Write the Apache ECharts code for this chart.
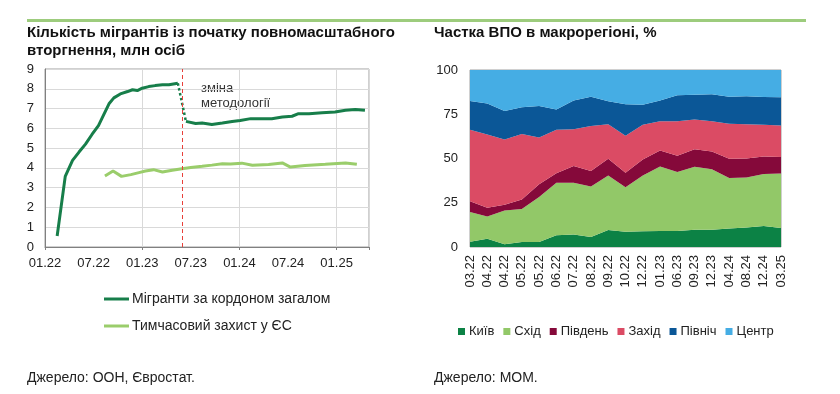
<!DOCTYPE html>
<html>
<head>
<meta charset="utf-8">
<script src="https://cdn.jsdelivr.net/npm/echarts@6/dist/echarts.min.js"></script>
<style>
html,body{margin:0;padding:0;background:#fff;}
#c{width:840px;height:394px;}
</style>
</head>
<body>
<div id="c"></div>
<script>
// ---- Left chart data (x = months since 01.22) ----
const leftTickLabels = ['01.22','07.22','01.23','07.23','01.24','07.24','01.25'];
const migrPreMonths  = [1.5, 2.5, 3.4, 4.2, 5.0, 5.8, 6.6, 7.3, 7.9, 8.5, 9.3, 10.2, 10.8, 11.4, 12.0, 12.8, 13.6, 14.5, 15.3, 16.4];
const migrPreValues  = [0.56, 3.57, 4.38, 4.8, 5.2, 5.69, 6.14, 6.73, 7.24, 7.54, 7.74, 7.86, 7.95, 7.91, 8.03, 8.11, 8.16, 8.2, 8.2, 8.28];
const migrPostMonths = [17.4, 18.6, 19.4, 20.6, 21.9, 23.1, 24.1, 25.4, 26.8, 28.0, 29.3, 30.5, 31.3, 32.6, 34.2, 35.8, 37.1, 38.3, 39.5];
const migrPostValues = [6.35, 6.24, 6.27, 6.19, 6.27, 6.35, 6.4, 6.49, 6.49, 6.49, 6.57, 6.61, 6.74, 6.74, 6.79, 6.83, 6.91, 6.95, 6.91];
const tempMonths = [7.4, 8.4, 9.45, 10.6, 11.6, 12.4, 13.4, 14.5, 15.7, 16.9, 18.0, 19.4, 20.6, 21.9, 22.9, 24.3, 25.6, 27.6, 29.3, 30.3, 32.1, 34.6, 37.1, 38.5];
const tempValues = [3.59, 3.84, 3.57, 3.66, 3.76, 3.84, 3.91, 3.79, 3.88, 3.96, 4.02, 4.08, 4.14, 4.21, 4.2, 4.24, 4.13, 4.17, 4.25, 4.04, 4.12, 4.18, 4.25, 4.18];
const methodologyChangeMonth = 17;

// ---- Right chart data (shares, %) ----
const rightCategories = ['03.22','04.22','04.22','05.22','05.22','06.22','07.22','08.22','09.22','10.22','12.22','01.23','06.23','09.23','12.23','04.24','08.24','12.24','03.25'];
const kyiv   = [3, 4.6, 1.6, 2.8, 2.8, 6.6, 7, 5.7, 9.6, 8.6, 8.9, 9.1, 9.1, 9.8, 9.8, 10.4, 11, 11.8, 10.7];
const east   = [16.8, 12.7, 19.0, 18.7, 25.5, 29.7, 29.3, 28.5, 30.8, 25.1, 31.5, 36.4, 33.3, 35.5, 34.1, 28.6, 28.2, 29.5, 30.8];
const south  = [6.1, 4.9, 3.3, 5.4, 7.2, 5.4, 9.5, 8.7, 9.4, 8.3, 9.0, 9.0, 9.2, 9.9, 10.1, 10.8, 10.8, 9.8, 9.4];
const west   = [40.3, 41.3, 36.8, 36.9, 26.4, 24.5, 20.7, 25.4, 19.5, 20.8, 19.7, 16.5, 19.5, 16.8, 17.1, 19.8, 19.3, 17.9, 17.8];
const north  = [16.3, 17.6, 16.1, 15.2, 17.7, 11.5, 16.3, 16.6, 13.0, 17.8, 11.3, 11.8, 14.7, 14.0, 15.2, 15.3, 15.8, 15.7, 15.9];
const center = [17.5, 18.9, 23.2, 21.0, 20.4, 22.3, 17.2, 15.1, 17.7, 19.4, 19.6, 17.2, 14.2, 14.0, 13.7, 15.1, 14.9, 15.3, 15.4];

const FONT = '"Liberation Sans", Arial, sans-serif';
const DARK = '#177e4a', LIGHT = '#9acd6b';
const zip = (xs, ys) => xs.map((x, i) => [x, ys[i]]);

const chart = echarts.init(document.getElementById('c'), null, {renderer: 'canvas'});
const txt = {fontFamily: FONT, fontSize: 13, color: '#222'};

const areaSeries = (name, data, color) => ({
  name, type: 'line', xAxisIndex: 2, yAxisIndex: 1, stack: 'total',
  data, symbol: 'none', lineStyle: {width: 0}, areaStyle: {color, opacity: 1},
  itemStyle: {color}, silent: true
});

chart.setOption({
  animation: false,
  textStyle: {fontFamily: FONT},
  graphic: [
    {type: 'rect', shape: {x: 27, y: 19, width: 779, height: 3}, style: {fill: '#9dcc7d'}},
    {type: 'text', left: 27, top: 24, style: {text: 'Кількість мігрантів із початку повномасштабного\nвторгнення, млн осіб', font: 'bold 15px ' + FONT, fill: '#111', lineHeight: 18}},
    {type: 'text', left: 434, top: 24, style: {text: 'Частка ВПО в макрорегіоні, %', font: 'bold 15px ' + FONT, fill: '#111', lineHeight: 18}},
    {type: 'text', left: 201, top: 81, style: {text: 'зміна\nметодології', font: '13px ' + FONT, fill: '#333', lineHeight: 15}},
    {type: 'text', left: 27, top: 370, style: {text: 'Джерело: ООН, Євростат.', font: '14px ' + FONT, fill: '#222', lineHeight: 16}},
    {type: 'text', left: 434, top: 370, style: {text: 'Джерело: МОМ.', font: '14px ' + FONT, fill: '#222', lineHeight: 16}}
  ],
  legend: [
    {
      orient: 'vertical', left: 99, top: 287, itemGap: 13, itemWidth: 25, itemHeight: 3, icon: 'rect',
      textStyle: {fontFamily: FONT, fontSize: 14, color: '#222', padding: [0, 0, 0, -2]},
      data: ['Мігранти за кордоном загалом', 'Тимчасовий захист у ЄС'], selectedMode: false
    },
    {
      orient: 'horizontal', left: 453, top: 320, itemGap: 9, itemWidth: 7, itemHeight: 7, icon: 'rect',
      textStyle: {fontFamily: FONT, fontSize: 13, color: '#222', padding: [0, 0, 0, -1]},
      data: ['Київ', 'Схід', 'Південь', 'Захід', 'Північ', 'Центр'], selectedMode: false
    }
  ],
  grid: [
    {left: 45, top: 69, width: 324, height: 178, show: true, borderColor: '#a0a0a0', borderWidth: 1},
    {left: 470, top: 70, width: 311, height: 177, show: true, borderColor: '#a0a0a0', borderWidth: 1}
  ],
  xAxis: [
    {
      gridIndex: 0, type: 'value', min: 0, max: 40, interval: 6,
      axisLine: {show: true, lineStyle: {color: '#808080'}},
      axisTick: {show: false}, splitLine: {show: false},
      axisLabel: Object.assign({margin: 10, formatter: v => (v % 6 === 0 && v / 6 < leftTickLabels.length) ? leftTickLabels[v / 6] : ''}, txt)
    },
    {
      gridIndex: 0, type: 'value', min: 0, max: 40, interval: 12, position: 'bottom',
      axisLine: {show: false}, axisLabel: {show: false},
      axisTick: {show: true, length: 3, lineStyle: {color: '#808080'}},
      splitLine: {show: true, lineStyle: {color: '#d9d9d9'}}
    },
    {
      gridIndex: 1, type: 'category', data: rightCategories, boundaryGap: false,
      axisLine: {show: false}, axisTick: {show: false}, splitLine: {show: false},
      axisLabel: Object.assign({rotate: 90, interval: 0, margin: 8}, txt)
    }
  ],
  yAxis: [
    {
      gridIndex: 0, type: 'value', min: 0, max: 9, interval: 1,
      axisLine: {show: true, lineStyle: {color: '#808080'}}, axisTick: {show: false},
      splitLine: {show: true, lineStyle: {color: '#d9d9d9'}},
      axisLabel: Object.assign({margin: 11}, txt)
    },
    {
      gridIndex: 1, type: 'value', min: 0, max: 100, interval: 25,
      axisLine: {show: false}, axisTick: {show: false}, splitLine: {show: false},
      axisLabel: Object.assign({margin: 12}, txt)
    }
  ],
  series: [
    {
      name: 'Мігранти за кордоном загалом', type: 'line', xAxisIndex: 0, yAxisIndex: 0,
      data: zip(migrPreMonths, migrPreValues), showSymbol: false, symbol: 'none',
      lineStyle: {color: DARK, width: 3}, itemStyle: {color: DARK},
      markLine: {
        silent: true, symbol: 'none', label: {show: false},
        lineStyle: {color: '#e8403a', type: [4, 3], width: 1},
        data: [{xAxis: methodologyChangeMonth}]
      }
    },
    {
      name: 'dotted', type: 'line', xAxisIndex: 0, yAxisIndex: 0,
      data: [[migrPreMonths[migrPreMonths.length - 1], migrPreValues[migrPreValues.length - 1]], [migrPostMonths[0], migrPostValues[0]]],
      symbol: 'none', lineStyle: {color: DARK, width: 2.5, type: 'dotted'}
    },
    {
      name: 'Мігранти за кордоном загалом', type: 'line', xAxisIndex: 0, yAxisIndex: 0,
      data: zip(migrPostMonths, migrPostValues), symbol: 'none',
      lineStyle: {color: DARK, width: 3}, itemStyle: {color: DARK}
    },
    {
      name: 'Тимчасовий захист у ЄС', type: 'line', xAxisIndex: 0, yAxisIndex: 0,
      data: zip(tempMonths, tempValues), symbol: 'none',
      lineStyle: {color: LIGHT, width: 3}, itemStyle: {color: LIGHT}
    },
    areaSeries('Київ', kyiv, '#0c8245'),
    areaSeries('Схід', east, '#92c868'),
    areaSeries('Південь', south, '#85093a'),
    areaSeries('Захід', west, '#db4b64'),
    areaSeries('Північ', north, '#0b5797'),
    areaSeries('Центр', center, '#45ade4')
  ]
});
</script>
</body>
</html>
